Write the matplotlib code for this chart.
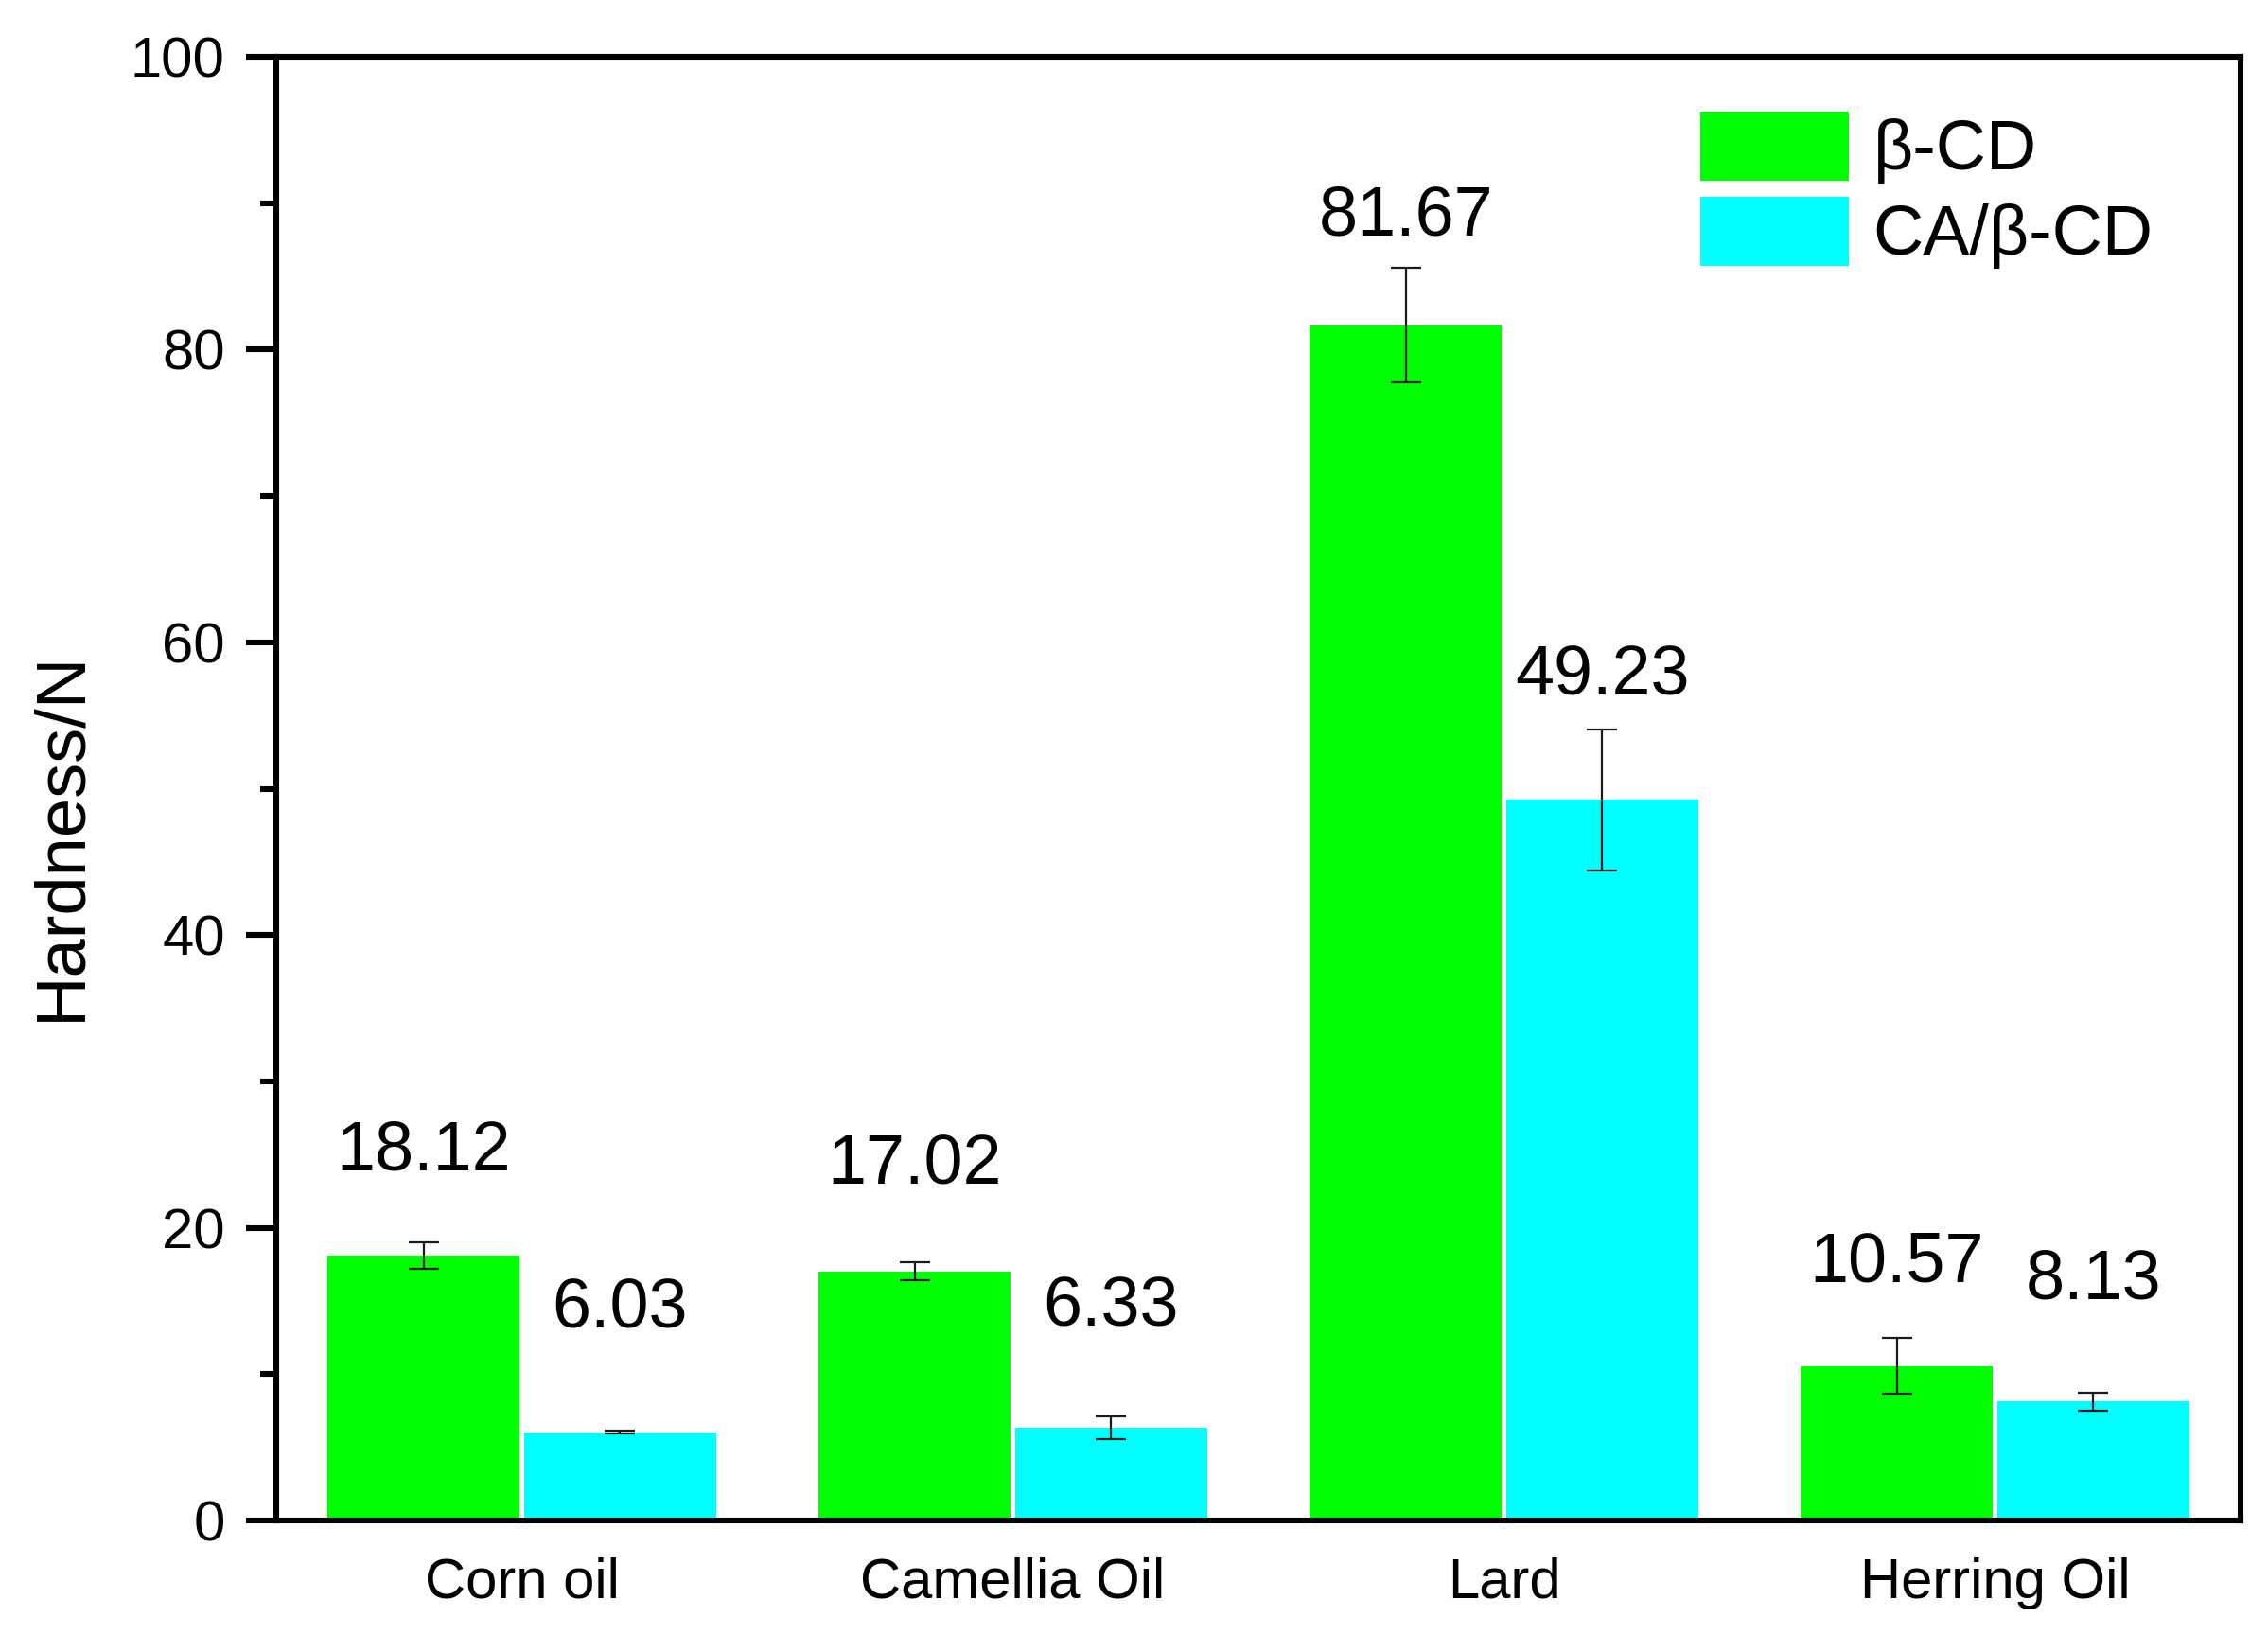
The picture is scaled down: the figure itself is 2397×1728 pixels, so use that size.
import matplotlib
matplotlib.use("Agg")
import matplotlib.pyplot as plt
import numpy as np
from matplotlib.ticker import MultipleLocator

plt.rcParams['font.family'] = ['Liberation Sans', 'DejaVu Sans']

oils = ['Corn oil', 'Camellia Oil', 'Lard', 'Herring Oil']
beta_cd = [18.12, 17.02, 81.67, 10.57]
beta_cd_err = [0.9, 0.6, 3.9, 1.9]
ca_beta_cd = [6.03, 6.33, 49.23, 8.13]
ca_beta_cd_err = [0.1, 0.8, 4.8, 0.6]

# where the value labels sit (data units above bar top + error)
beta_lab_pad = [6.2, 6.6, 3.5, 5.1]
ca_lab_pad = [8.3, 7.4, 3.6, 7.7]

fig = plt.figure(figsize=(11.985, 8.64), dpi=200)
ax = fig.add_axes([0.1218, 0.0700, 0.8661, 0.8953])

x = np.arange(1, len(oils) + 1)
w = 0.392
ekw = dict(elinewidth=0.8, capthick=0.8, ecolor='#1a1a1a')
ax.bar(x - 0.2, beta_cd, w, yerr=beta_cd_err, color='#00ff00', capsize=5.7,
       error_kw=ekw, label='β-CD', linewidth=0)
ax.bar(x + 0.2, ca_beta_cd, w, yerr=ca_beta_cd_err, color='#00ffff', capsize=5.7,
       error_kw=ekw, label='CA/β-CD', linewidth=0)

for i in range(len(oils)):
    ax.text(x[i] - 0.2, beta_cd[i] + beta_cd_err[i] + beta_lab_pad[i], f'{beta_cd[i]:.2f}',
            ha='center', va='center', fontsize=26.5)
    ax.text(x[i] + 0.2, ca_beta_cd[i] + ca_beta_cd_err[i] + ca_lab_pad[i], f'{ca_beta_cd[i]:.2f}',
            ha='center', va='center', fontsize=26.5)

ax.set_xlim(0.5, 4.5)
ax.set_ylim(0, 100)
ax.set_xticks(x)
ax.set_xticklabels(oils, fontsize=21.5)
ax.tick_params(axis='x', length=0, pad=14)
ax.yaxis.set_major_locator(MultipleLocator(20))
ax.yaxis.set_minor_locator(MultipleLocator(10))
ax.tick_params(axis='y', which='major', length=11.5, width=2.2, labelsize=21.5, pad=8)
ax.tick_params(axis='y', which='minor', length=6, width=2.2)
for s in ax.spines.values():
    s.set_linewidth(2.2)

ax.set_ylabel('Hardness/N', fontsize=26.7)
ax.yaxis.set_label_coords(-0.093, 0.468)

ax.legend(loc='upper left', bbox_to_anchor=(0.725, 0.9625), frameon=False, fontsize=26.5,
          handlelength=2.13, handleheight=1.14, handletextpad=0.35, labelspacing=0.19,
          borderpad=0, borderaxespad=0)

fig.savefig('out.png', dpi=200)
